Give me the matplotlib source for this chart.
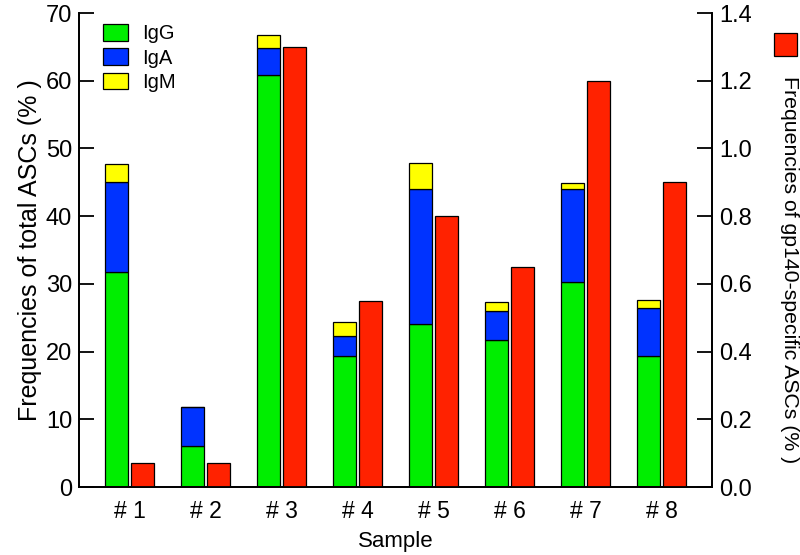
import matplotlib
matplotlib.use('Agg')
import matplotlib.pyplot as plt
import numpy as np
from matplotlib.patches import Rectangle

plt.rcParams['font.family'] = ['Liberation Sans', 'DejaVu Sans']

# values
samples = ['# 1', '# 2', '# 3', '# 4', '# 5', '# 6', '# 7', '# 8']
igg = [31.7, 6.1, 60.9, 19.4, 24.1, 21.7, 30.3, 19.4]
iga = [13.3, 5.7, 4.0, 2.9, 19.9, 4.3, 13.7, 7.1]
igm = [2.7, 0.0, 1.8, 2.0, 3.9, 1.3, 0.9, 1.1]
gp140 = [0.07, 0.07, 1.30, 0.55, 0.80, 0.65, 1.20, 0.90]

col_igg = '#00ee00'
col_iga = '#0033ff'
col_igm = '#ffff00'
col_gp = '#ff2200'

fig = plt.figure(figsize=(8, 5.55), dpi=100)
ax = fig.add_axes([0.09875, 0.1225, 0.79125, 0.854])
ax2 = ax.twinx()

x = np.arange(1, len(samples) + 1)
w = 0.30
off = 0.17
kw = dict(width=w, edgecolor='black', linewidth=0.9)

igg = np.array(igg)
iga = np.array(iga)
igm = np.array(igm)
ax.bar(x - off, igg, color=col_igg, label='IgG', **kw)
ax.bar(x - off, iga, bottom=igg, color=col_iga, label='IgA', **kw)
ax.bar(x - off, igm, bottom=igg + iga, color=col_igm, label='IgM', **kw)
ax2.bar(x + off, gp140, color=col_gp, **kw)

ax.set_xlim(0.336, 8.664)
ax.set_ylim(0, 70)
ax2.set_ylim(0, 1.4)
ax.set_yticks(np.arange(0, 71, 10))
ax2.set_yticks(np.arange(0, 1.41, 0.2))
ax2.set_yticklabels(['%.1f' % v for v in np.arange(0, 1.41, 0.2)])
ax.set_xticks(x)
ax.set_xticklabels(samples)

for a in (ax, ax2):
    a.spines['top'].set_visible(False)
    a.tick_params(axis='y', direction='in', length=11, width=1.3, labelsize=17, pad=5)
    for s in a.spines.values():
        s.set_linewidth(1.3)
ax.tick_params(axis='x', length=0, labelsize=16.5, pad=9)

ax.set_ylabel('Frequencies of total ASCs (% )', fontsize=18, labelpad=3)
ax.set_xlabel('Sample', fontsize=16, labelpad=6)
fig.text(789 / 800, 1 - 270 / 555, 'Frequencies of gp140-specific ASCs (% )',
         fontsize=15.3, rotation=270, ha='center', va='center')

ax.legend(loc='upper left', bbox_to_anchor=(0.01, 1.015), frameon=False, fontsize=14.5,
          handlelength=1.2, handleheight=0.9, labelspacing=0.25, handletextpad=0.7)

# red key square for the right axis
fig.patches.append(Rectangle((774 / 800, 1 - 56 / 555), 23 / 800, 23 / 555,
                             transform=fig.transFigure, facecolor=col_gp,
                             edgecolor='black', linewidth=0.9))

fig.savefig('out.png', dpi=100)
